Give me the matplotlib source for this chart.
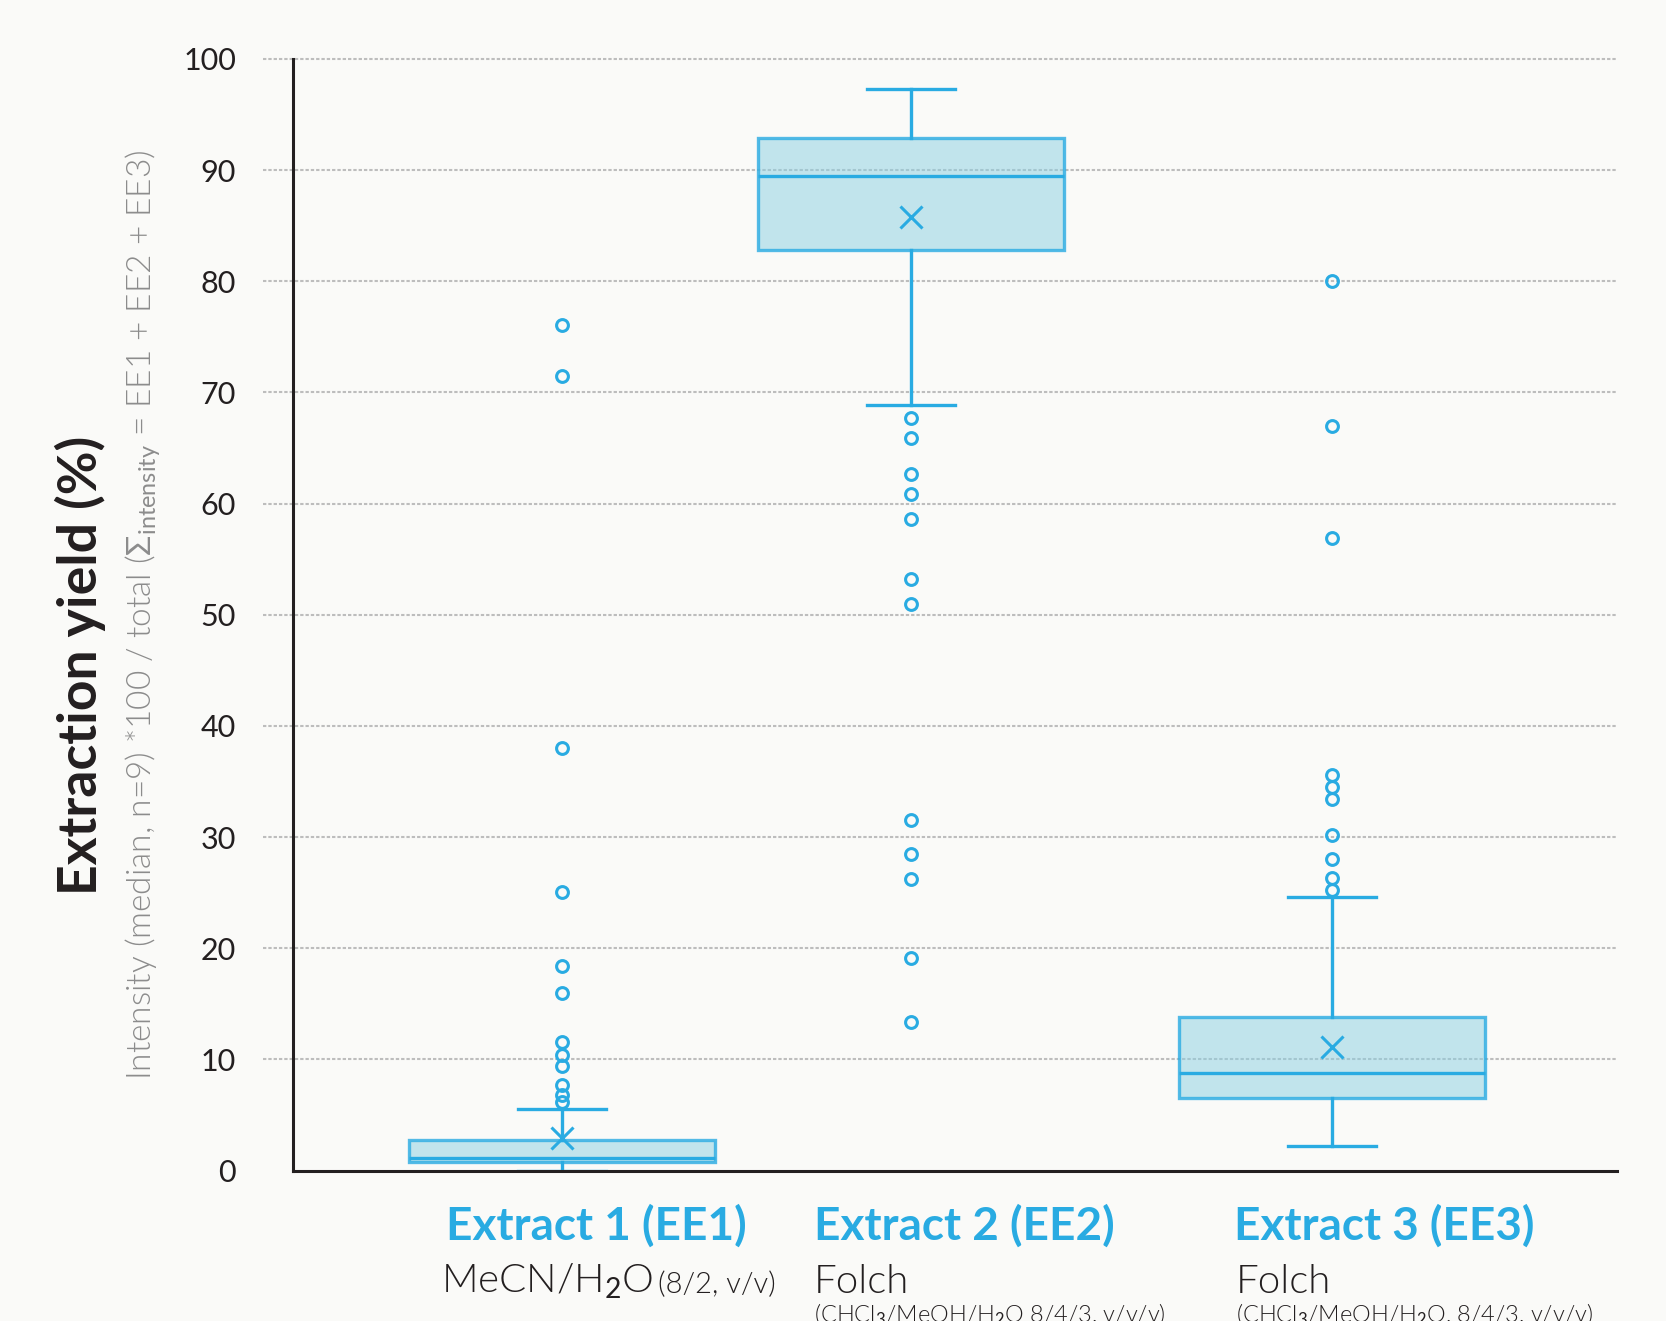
import matplotlib
matplotlib.use("Agg")
import matplotlib.pyplot as plt

plt.rcParams['font.family'] = ['Lato', 'DejaVu Sans']
plt.rcParams['mathtext.fontset'] = 'custom'
plt.rcParams['mathtext.rm'] = 'Lato'
plt.rcParams['mathtext.it'] = 'Lato:italic'
plt.rcParams['mathtext.bf'] = 'Lato:bold'

# datos
extracts = ['Extract 1 (EE1)', 'Extract 2 (EE2)', 'Extract 3 (EE3)']
solvents = [r'MeCN/H$_2$O', 'Folch', 'Folch']
solvent_notes = ['(8/2, v/v)', r'(CHCl$_3$/MeOH/H$_2$O 8/4/3, v/v/v)',
                 r'(CHCl$_3$/MeOH/H$_2$O, 8/4/3, v/v/v)']
q1 = [0.8, 82.8, 6.5]
median = [1.1, 89.5, 8.8]
q3 = [2.7, 92.9, 13.8]
mean = [2.9, 85.8, 11.1]
whisker_low = [0.0, 68.9, 2.2]
whisker_high = [5.5, 97.3, 24.6]
outliers_ee1 = [76.1, 71.5, 38.0, 25.1, 18.4, 16.0, 11.6, 10.4, 9.4, 7.7, 6.8, 6.2]
outliers_ee2 = [67.7, 65.9, 62.7, 60.9, 58.6, 53.2, 51.0, 31.5, 28.5, 26.2, 19.1, 13.4]
outliers_ee3 = [80.0, 67.0, 56.9, 35.6, 34.5, 33.4, 30.2, 28.0, 26.3, 25.2]
outliers = [outliers_ee1, outliers_ee2, outliers_ee3]
y_ticks = [0, 10, 20, 30, 40, 50, 60, 70, 80, 90, 100]

W, H = 1666, 1321
BLUE = '#29abe2'
DARK = '#231f20'
BG = '#fafaf8'


def fx(px):
    return px / W


def fy(py):
    return 1 - py / H


def main():
    fig = plt.figure(figsize=(W / 100, H / 100), dpi=100, facecolor=BG)
    ax = fig.add_axes([fx(293), fy(1170.5), (1617 - 293) / W, (1170.5 - 59) / H])
    ax.set_facecolor(BG)

    stats = []
    for i in range(3):
        stats.append(dict(med=median[i], q1=q1[i], q3=q3[i], mean=mean[i],
                          whislo=whisker_low[i], whishi=whisker_high[i],
                          fliers=outliers[i]))

    positions = [0.203, 0.467, 0.785]
    ax.bxp(stats, positions=positions, widths=0.231, capwidths=0.0665,
           patch_artist=True, showmeans=True, manage_ticks=False,
           boxprops=dict(facecolor=(0.54, 0.81, 0.886, 0.5),
                         edgecolor=(0.16, 0.67, 0.886, 0.8), linewidth=2.4),
           medianprops=dict(color=BLUE, linewidth=2.4),
           whiskerprops=dict(color=BLUE, linewidth=2.4),
           capprops=dict(color=BLUE, linewidth=2.4),
           meanprops=dict(marker='x', markersize=16, markeredgecolor=BLUE,
                          markeredgewidth=2.2),
           flierprops=dict(marker='o', markersize=8.5, markerfacecolor='none',
                           markeredgecolor=BLUE, markeredgewidth=2.2))

    ax.set_xlim(0, 1)
    ax.set_ylim(0, 100)
    ax.set_yticks(y_ticks)
    ax.set_yticklabels([str(t) for t in y_ticks], fontsize=22, color=DARK)
    ax.tick_params(axis='y', length=0, pad=41)
    ax.set_xticks([])

    for t in y_ticks[1:]:
        ax.axhline(t, xmin=-0.0223, xmax=1, color='#bdbdbd', linewidth=1.5,
                   dashes=(1.6, 0.95), clip_on=False, zorder=0)

    for s in ['top', 'right']:
        ax.spines[s].set_visible(False)
    for s in ['left', 'bottom']:
        ax.spines[s].set_color(DARK)
        ax.spines[s].set_linewidth(2.2)

    fig.text(fx(80), fy(665), 'Extraction yield (%)', rotation=90,
             fontsize=38.5, fontweight='bold', color=DARK, ha='center', va='center')
    fig.text(fx(143), fy(615), r'Intensity (median, n=9) *100 / total ($\Sigma_{\mathrm{intensity}}$ = EE1 + EE2 + EE3)',
             rotation=90, fontsize=24, fontweight=300, color='#8c8c8c',
             ha='center', va='center')

    title_x = [446, 814, 1234]
    sub_x = [441, 814, 1236]
    first_solvent = None
    for i in range(3):
        fig.text(fx(title_x[i]), fy(1240), extracts[i], fontsize=33,
                 fontweight='bold', color=BLUE, ha='left', va='baseline')
        t = fig.text(fx(sub_x[i]), fy(1293), solvents[i], fontsize=29,
                     fontweight=300, color=DARK, ha='left', va='baseline')
        if i == 0:
            first_solvent = t

    # la nota del primer extracto va en la misma línea, justo detrás
    fig.canvas.draw()
    bb = first_solvent.get_window_extent(fig.canvas.get_renderer())
    fig.text((bb.x1 + 5) / W, fy(1293), solvent_notes[0], fontsize=21,
             fontweight=300, color=DARK, ha='left', va='baseline')
    fig.text(fx(814), fy(1322), solvent_notes[1], fontsize=17,
             fontweight=300, color=DARK, ha='left', va='baseline')
    fig.text(fx(1236), fy(1322), solvent_notes[2], fontsize=17,
             fontweight=300, color=DARK, ha='left', va='baseline')

    fig.savefig('out.png', dpi=100, facecolor=BG)


if __name__ == "__main__":
    main()
